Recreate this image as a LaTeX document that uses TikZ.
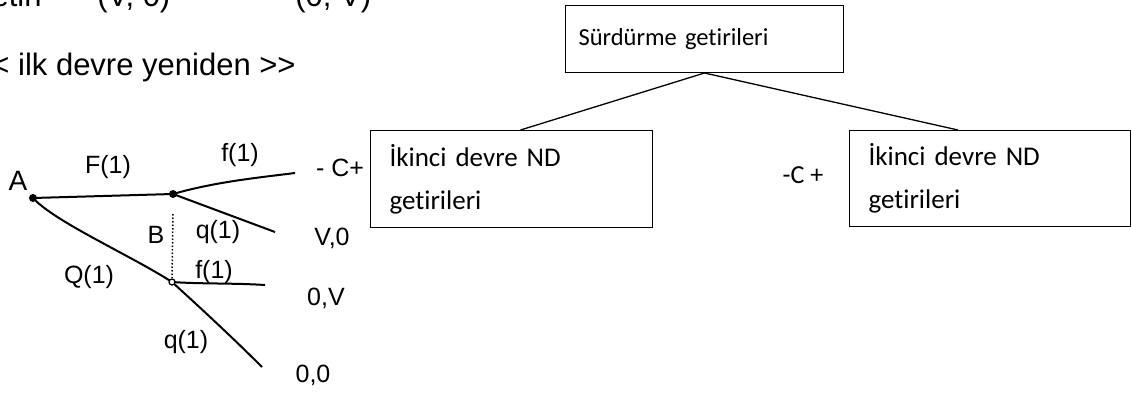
\documentclass[tikz,border=0pt]{standalone}
\usepackage{fontspec}
\setmainfont{Liberation Sans}
\newfontfamily\boxfont[Ligatures=NoCommon]{Carlito}
\tikzset{every picture/.style={line width=0.75pt}}
\tikzset{
	getiri/.style={draw, line width=1pt, inner xsep=19pt, inner ysep=0pt, align=left, anchor=north west, font=\boxfont\fontsize{27}{43}\selectfont},
	elyazi/.style={inner sep=0pt, font=\fontsize{25}{27}\selectfont},
	dal/.style={line width=2pt},
	yazi/.style={inner sep=0pt, anchor=base west, font=\fontsize{31}{34}\selectfont}
}

\begin{document}
\begin{tikzpicture}[x=1pt, y=-1pt]
	\useasboundingbox (0, 0) rectangle (1131, 397);
	\clip (0, 0) rectangle (1131, 397);
	\node[yazi, anchor=base east](Etin) at (42, 6){etin};
	\node[yazi](VO) at (97, 6){(V, 0)};
	\node[yazi](OV) at (295, 6){(0, V)};
	\node[yazi, anchor=base east](Ilk) at (296, 75){<{}< ilk devre yeniden >{}>};
	\node[getiri, minimum width=278pt, minimum height=67pt, inner xsep=13pt, text width=252pt, font=\boxfont\fontsize{24.5}{28}\selectfont](Sur) at (565, 5){S\"urd\"urme getirileri};
	\node[getiri, minimum width=282pt, minimum height=97pt, text width=244pt](Iki1) at (370, 130){\.Ikinci devre ND\\getirileri};
	\node[getiri, minimum width=281pt, minimum height=96pt, text width=243pt](Iki2) at (849, 130){\.Ikinci devre ND\\getirileri};
	\node[inner sep=0pt, font=\boxfont\fontsize{26}{30}\selectfont](MinC) at (803, 175){-C +};
	\draw[line width=1.3pt] (Sur.south) -- ([xshift=9pt]Iki1.north);
	\draw[line width=1.3pt] (Sur.south) -- ([xshift=-32pt]Iki2.north);
	\coordinate (A) at (33, 198);
	\coordinate (B1) at (173, 194);
	\coordinate (B2) at (172, 282);
	\coordinate (E1) at (295, 173);
	\coordinate (E2) at (275, 232);
	\coordinate (E3) at (265, 285);
	\coordinate (E4) at (262, 367);
	\draw[dal] (A) -- (B1);
	\draw[dal] (A) .. controls (55, 222) and (130, 255) .. (B2);
	\draw[dal] (B1) .. controls (215, 182) and (255, 178) .. (E1);
	\draw[dal] (B1) -- (E2);
	\draw[dal] (B2) .. controls (200, 284) and (235, 283) .. (E3);
	\draw[dal] (B2) .. controls (205, 312) and (235, 340) .. (E4);
	\draw[dotted, line width=1.5pt] ([yshift=-20pt]B1) -- ([yshift=4pt]B2);
	\fill (A) circle (4pt);
	\fill (B1) circle (4pt);
	\draw[line width=1.3pt, fill=white] (B2) circle (3pt);
	\node[elyazi, font=\fontsize{28}{30}\selectfont](LA) at (18, 181){A};
	\node[elyazi](LF) at (108, 167){F(1)};
	\node[elyazi](Lf1) at (240, 155){f(1)};
	\node[elyazi](Lq1) at (218, 232){q(1)};
	\node[elyazi](LB) at (156, 235){B};
	\node[elyazi](LQ) at (89, 277){Q(1)};
	\node[elyazi](Lf2) at (214, 272){f(1)};
	\node[elyazi](Lq2) at (186, 342){q(1)};
	\node[elyazi](S1) at (340, 168){- C+};
	\node[elyazi](S2) at (332, 238){V,0};
	\node[elyazi](S3) at (326, 298){0,V};
	\node[elyazi](S4) at (313, 375){0,0};
\end{tikzpicture}
\end{document}
